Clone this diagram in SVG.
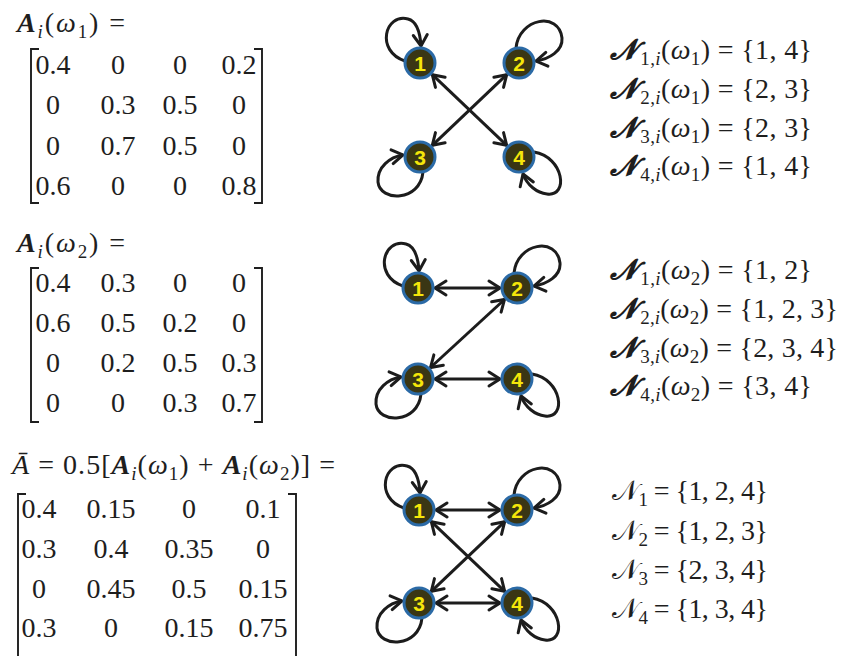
<svg xmlns="http://www.w3.org/2000/svg" width="844" height="656" viewBox="0 0 844 656">
<style>
.node circle{fill:#3a3614;stroke:#2b6aa6;stroke-width:3}
.node text{font-family:"Liberation Sans",Arial,sans-serif;font-weight:bold;font-size:21px;fill:#f5e60a;text-anchor:middle}
.edge{fill:none;stroke:#1c1c1c;stroke-width:3}
.m{font-family:"Liberation Serif","DejaVu Serif",serif;font-size:28px;fill:#1e1e1e;text-anchor:middle}
.eq{font-family:"Liberation Serif","DejaVu Serif","DejaVu Sans",serif;font-size:28px;fill:#1e1e1e}
.br{fill:none;stroke:#1e1e1e;stroke-width:1.9}
.b{font-weight:bold;font-style:italic}
.it{font-style:italic}
</style>
<defs>
<marker id="ah" viewBox="-15 -10 18 20" refX="0" refY="0" markerWidth="18" markerHeight="20" markerUnits="userSpaceOnUse" orient="auto-start-reverse">
<path d="M -11,-7 L 0,0 L -11,7" fill="none" stroke="#1c1c1c" stroke-width="3" stroke-linecap="round"/>
</marker>
<path id="loopTL" d="M -15,-2 C -45,-12 -35,-50 -12,-44 C -4,-42 0,-32 1,-17"/>
<path id="loopTR" d="M -3,-15 C 0,-45 40,-52 43,-25 C 44,-12 30,-4 17,-2"/>
<path id="loopBL" d="M 3,15 C 0,45 -40,45 -42,25 C -43,10 -30,0 -17,-2"/>
<path id="loopBR" d="M 15,-5 C 45,0 50,40 28,37 C 18,36 8,28 4,17"/>
</defs>

<!-- Matrix 1 -->
<g id="matrix1">
<text class="eq" x="17" y="32" textLength="108" lengthAdjust="spacing"><tspan class="b">A</tspan><tspan class="it" font-size="19" dy="6">i</tspan><tspan dy="-6">(</tspan><tspan class="it">ω</tspan><tspan font-size="19" dy="6">1</tspan><tspan dy="-6">) =</tspan></text>
<path class="br" d="M 39,49 H 31 V 203 H 39 M 254,49 H 262 V 203 H 254"/>
<text class="m" y="73.5"><tspan x="53">0.4</tspan><tspan x="118">0</tspan><tspan x="180">0</tspan><tspan x="239">0.2</tspan></text>
<text class="m" y="114"><tspan x="53">0</tspan><tspan x="118">0.3</tspan><tspan x="180">0.5</tspan><tspan x="239">0</tspan></text>
<text class="m" y="154.5"><tspan x="53">0</tspan><tspan x="118">0.7</tspan><tspan x="180">0.5</tspan><tspan x="239">0</tspan></text>
<text class="m" y="195"><tspan x="53">0.6</tspan><tspan x="118">0</tspan><tspan x="180">0</tspan><tspan x="239">0.8</tspan></text>
</g>

<!-- Matrix 2 -->
<g id="matrix2">
<text class="eq" x="17" y="252" textLength="108" lengthAdjust="spacing"><tspan class="b">A</tspan><tspan class="it" font-size="19" dy="6">i</tspan><tspan dy="-6">(</tspan><tspan class="it">ω</tspan><tspan font-size="19" dy="6">2</tspan><tspan dy="-6">) =</tspan></text>
<path class="br" d="M 39,268 H 31 V 422 H 39 M 254,268 H 262 V 422 H 254"/>
<text class="m" y="292"><tspan x="53">0.4</tspan><tspan x="118">0.3</tspan><tspan x="180">0</tspan><tspan x="239">0</tspan></text>
<text class="m" y="332"><tspan x="53">0.6</tspan><tspan x="118">0.5</tspan><tspan x="180">0.2</tspan><tspan x="239">0</tspan></text>
<text class="m" y="372"><tspan x="53">0</tspan><tspan x="118">0.2</tspan><tspan x="180">0.5</tspan><tspan x="239">0.3</tspan></text>
<text class="m" y="412"><tspan x="53">0</tspan><tspan x="118">0</tspan><tspan x="180">0.3</tspan><tspan x="239">0.7</tspan></text>
</g>

<!-- Matrix 3 -->
<g id="matrix3">
<text class="eq" x="12" y="474" textLength="323" lengthAdjust="spacing"><tspan class="it">Ā</tspan><tspan> = 0.5[</tspan><tspan class="b">A</tspan><tspan class="it" font-size="19" dy="6">i</tspan><tspan dy="-6">(</tspan><tspan class="it">ω</tspan><tspan font-size="19" dy="6">1</tspan><tspan dy="-6">) + </tspan><tspan class="b">A</tspan><tspan class="it" font-size="19" dy="6">i</tspan><tspan dy="-6">(</tspan><tspan class="it">ω</tspan><tspan font-size="19" dy="6">2</tspan><tspan dy="-6">)] =</tspan></text>
<path class="br" d="M 26,494 H 18 V 670 M 288,494 H 296 V 670"/>
<text class="m" y="518"><tspan x="39">0.4</tspan><tspan x="111">0.15</tspan><tspan x="189">0</tspan><tspan x="263">0.1</tspan></text>
<text class="m" y="558"><tspan x="39">0.3</tspan><tspan x="111">0.4</tspan><tspan x="189">0.35</tspan><tspan x="263">0</tspan></text>
<text class="m" y="598"><tspan x="39">0</tspan><tspan x="111">0.45</tspan><tspan x="189">0.5</tspan><tspan x="263">0.15</tspan></text>
<text class="m" y="637"><tspan x="39">0.3</tspan><tspan x="111">0</tspan><tspan x="189">0.15</tspan><tspan x="263">0.75</tspan></text>
</g>

<!-- Graph 1 connectors -->
<g id="connectors1" class="edge">
<line x1="432.3" y1="74.7" x2="506.7" y2="145.3" marker-start="url(#ah)" marker-end="url(#ah)"/>
<line x1="506.7" y1="74.7" x2="432.3" y2="145.3" marker-start="url(#ah)" marker-end="url(#ah)"/>
<use href="#loopTL" transform="translate(420,63)" marker-end="url(#ah)"/>
<use href="#loopTR" transform="translate(519,63)" marker-end="url(#ah)"/>
<use href="#loopBL" transform="translate(420,157)" marker-end="url(#ah)"/>
<use href="#loopBR" transform="translate(519,157)" marker-end="url(#ah)"/>
</g>
<g id="g1-n1" class="node"><circle cx="420" cy="63" r="15"/><text x="420" y="70.5">1</text></g>
<g id="g1-n2" class="node"><circle cx="519" cy="63" r="15"/><text x="519" y="70.5">2</text></g>
<g id="g1-n3" class="node"><circle cx="420" cy="157" r="15"/><text x="420" y="164.5">3</text></g>
<g id="g1-n4" class="node"><circle cx="519" cy="157" r="15"/><text x="519" y="164.5">4</text></g>

<!-- Graph 2 connectors -->
<g id="connectors2" class="edge">
<line x1="435" y1="288" x2="500" y2="288" marker-start="url(#ah)" marker-end="url(#ah)"/>
<line x1="504.5" y1="299.5" x2="430.5" y2="367.5" marker-start="url(#ah)" marker-end="url(#ah)"/>
<line x1="435" y1="379" x2="500" y2="379" marker-start="url(#ah)" marker-end="url(#ah)"/>
<use href="#loopTL" transform="translate(418,288)" marker-end="url(#ah)"/>
<use href="#loopTR" transform="translate(517,288)" marker-end="url(#ah)"/>
<use href="#loopBL" transform="translate(418,379)" marker-end="url(#ah)"/>
<use href="#loopBR" transform="translate(517,379)" marker-end="url(#ah)"/>
</g>
<g id="g2-n1" class="node"><circle cx="418" cy="288" r="15"/><text x="418" y="295.5">1</text></g>
<g id="g2-n2" class="node"><circle cx="517" cy="288" r="15"/><text x="517" y="295.5">2</text></g>
<g id="g2-n3" class="node"><circle cx="418" cy="379" r="15"/><text x="418" y="386.5">3</text></g>
<g id="g2-n4" class="node"><circle cx="517" cy="379" r="15"/><text x="517" y="386.5">4</text></g>

<!-- Graph 3 connectors -->
<g id="connectors3" class="edge">
<line x1="436" y1="510" x2="500" y2="510" marker-start="url(#ah)" marker-end="url(#ah)"/>
<line x1="436" y1="603" x2="500" y2="603" marker-start="url(#ah)" marker-end="url(#ah)"/>
<line x1="431.3" y1="521.7" x2="504.7" y2="591.3" marker-start="url(#ah)" marker-end="url(#ah)"/>
<line x1="504.7" y1="521.7" x2="431.3" y2="591.3" marker-start="url(#ah)" marker-end="url(#ah)"/>
<use href="#loopTL" transform="translate(419,510)" marker-end="url(#ah)"/>
<use href="#loopTR" transform="translate(517,510)" marker-end="url(#ah)"/>
<use href="#loopBL" transform="translate(419,603)" marker-end="url(#ah)"/>
<use href="#loopBR" transform="translate(517,603)" marker-end="url(#ah)"/>
</g>
<g id="g3-n1" class="node"><circle cx="419" cy="510" r="15"/><text x="419" y="517.5">1</text></g>
<g id="g3-n2" class="node"><circle cx="517" cy="510" r="15"/><text x="517" y="517.5">2</text></g>
<g id="g3-n3" class="node"><circle cx="419" cy="603" r="15"/><text x="419" y="610.5">3</text></g>
<g id="g3-n4" class="node"><circle cx="517" cy="603" r="15"/><text x="517" y="610.5">4</text></g>

<!-- Neighbour sets 1 -->
<g id="sets1">
<text class="eq" x="610" y="59" textLength="202" lengthAdjust="spacing"><tspan class="b">𝓝</tspan><tspan font-size="19" dy="6" dx="3">1,<tspan class="it">i</tspan></tspan><tspan dy="-6">(</tspan><tspan class="it">ω</tspan><tspan font-size="19" dy="6">1</tspan><tspan dy="-6">) = {1, 4}</tspan></text>
<text class="eq" x="610" y="98" textLength="202" lengthAdjust="spacing"><tspan class="b">𝓝</tspan><tspan font-size="19" dy="6" dx="3">2,<tspan class="it">i</tspan></tspan><tspan dy="-6">(</tspan><tspan class="it">ω</tspan><tspan font-size="19" dy="6">1</tspan><tspan dy="-6">) = {2, 3}</tspan></text>
<text class="eq" x="610" y="136.5" textLength="202" lengthAdjust="spacing"><tspan class="b">𝓝</tspan><tspan font-size="19" dy="6" dx="3">3,<tspan class="it">i</tspan></tspan><tspan dy="-6">(</tspan><tspan class="it">ω</tspan><tspan font-size="19" dy="6">1</tspan><tspan dy="-6">) = {2, 3}</tspan></text>
<text class="eq" x="610" y="175" textLength="202" lengthAdjust="spacing"><tspan class="b">𝓝</tspan><tspan font-size="19" dy="6" dx="3">4,<tspan class="it">i</tspan></tspan><tspan dy="-6">(</tspan><tspan class="it">ω</tspan><tspan font-size="19" dy="6">1</tspan><tspan dy="-6">) = {1, 4}</tspan></text>
</g>

<!-- Neighbour sets 2 -->
<g id="sets2">
<text class="eq" x="610" y="279" textLength="202" lengthAdjust="spacing"><tspan class="b">𝓝</tspan><tspan font-size="19" dy="6" dx="3">1,<tspan class="it">i</tspan></tspan><tspan dy="-6">(</tspan><tspan class="it">ω</tspan><tspan font-size="19" dy="6">2</tspan><tspan dy="-6">) = {1, 2}</tspan></text>
<text class="eq" x="610" y="318" textLength="228" lengthAdjust="spacing"><tspan class="b">𝓝</tspan><tspan font-size="19" dy="6" dx="3">2,<tspan class="it">i</tspan></tspan><tspan dy="-6">(</tspan><tspan class="it">ω</tspan><tspan font-size="19" dy="6">2</tspan><tspan dy="-6">) = {1, 2, 3}</tspan></text>
<text class="eq" x="610" y="356.5" textLength="228" lengthAdjust="spacing"><tspan class="b">𝓝</tspan><tspan font-size="19" dy="6" dx="3">3,<tspan class="it">i</tspan></tspan><tspan dy="-6">(</tspan><tspan class="it">ω</tspan><tspan font-size="19" dy="6">2</tspan><tspan dy="-6">) = {2, 3, 4}</tspan></text>
<text class="eq" x="610" y="395" textLength="202" lengthAdjust="spacing"><tspan class="b">𝓝</tspan><tspan font-size="19" dy="6" dx="3">4,<tspan class="it">i</tspan></tspan><tspan dy="-6">(</tspan><tspan class="it">ω</tspan><tspan font-size="19" dy="6">2</tspan><tspan dy="-6">) = {3, 4}</tspan></text>
</g>

<!-- Neighbour sets 3 -->
<g id="sets3">
<text class="eq" x="612" y="500" textLength="156" lengthAdjust="spacing"><tspan>𝒩</tspan><tspan font-size="19" dy="6">1</tspan><tspan dy="-6"> = {1, 2, 4}</tspan></text>
<text class="eq" x="612" y="539.5" textLength="156" lengthAdjust="spacing"><tspan>𝒩</tspan><tspan font-size="19" dy="6">2</tspan><tspan dy="-6"> = {1, 2, 3}</tspan></text>
<text class="eq" x="612" y="579" textLength="156" lengthAdjust="spacing"><tspan>𝒩</tspan><tspan font-size="19" dy="6">3</tspan><tspan dy="-6"> = {2, 3, 4}</tspan></text>
<text class="eq" x="612" y="618" textLength="156" lengthAdjust="spacing"><tspan>𝒩</tspan><tspan font-size="19" dy="6">4</tspan><tspan dy="-6"> = {1, 3, 4}</tspan></text>
</g>
</svg>
